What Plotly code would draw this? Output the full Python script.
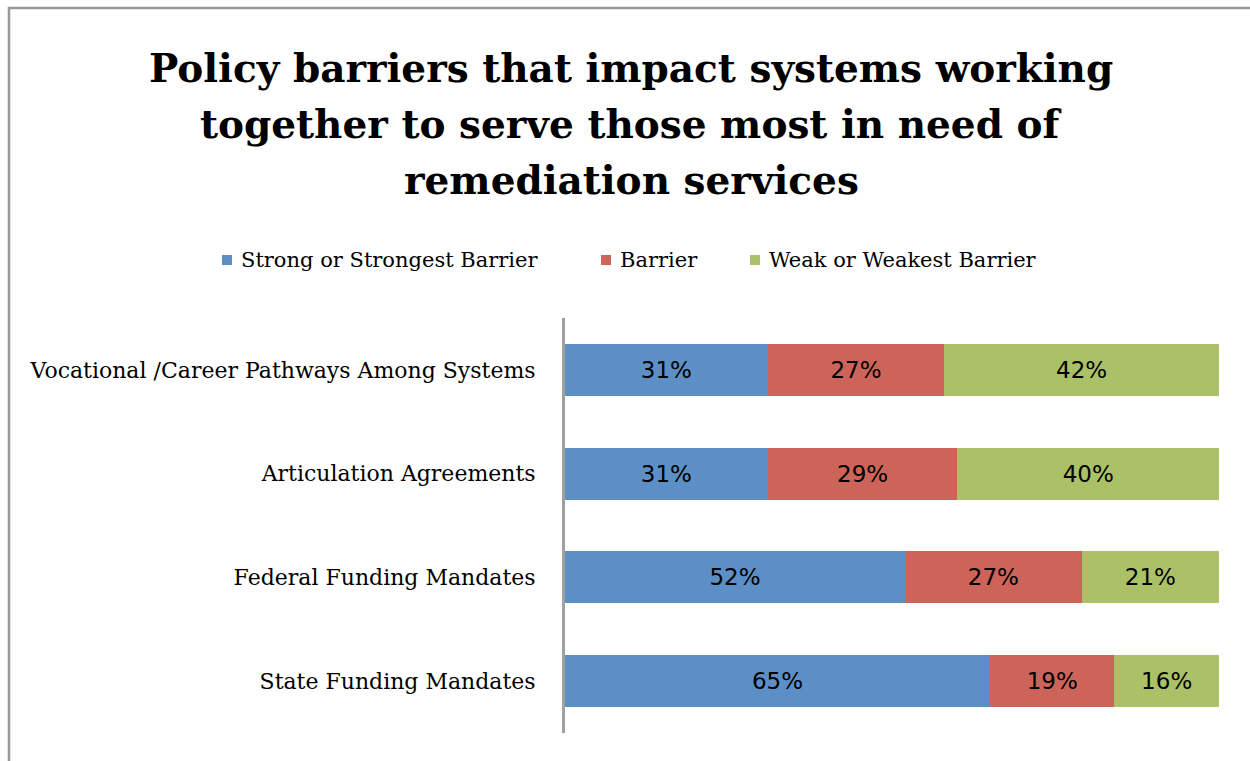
import plotly.graph_objects as go

categories = [
    "Vocational /Career Pathways Among Systems",
    "Articulation Agreements",
    "Federal Funding Mandates",
    "State Funding Mandates",
]
series_names = ["Strong or Strongest Barrier", "Barrier", "Weak or Weakest Barrier"]
strong = [31, 31, 52, 65]
barrier = [27, 29, 27, 19]
weak = [42, 40, 21, 16]
colors = ["#5B8FC5", "#CC645A", "#AAC168"]
title_lines = [
    "Policy barriers that impact systems working",
    "together to serve those most in need of",
    "remediation services",
]

W, H = 1250, 761
L, R, T, B = 565, 31, 318, 28
PW, PH = W - L - R, H - T - B


def px_x(x):
    return (x - L) / PW


def px_y(y):
    return (H - B - y) / PH


fig = go.Figure()
for name, vals, col in zip(series_names, [strong, barrier, weak], colors):
    fig.add_trace(go.Bar(
        y=categories, x=vals, name=name, orientation="h",
        marker=dict(color=col, line=dict(width=0)),
        text=[f"{v}%" for v in vals], textposition="inside",
        insidetextanchor="middle",
        textfont=dict(family="DejaVu Sans", size=23, color="#000000"),
    ))

serif = "DejaVu Serif"
fig.update_layout(
    width=W, height=H,
    barmode="stack", bargap=0.5,
    margin=dict(l=L, r=R, t=T, b=B, autoexpand=False),
    paper_bgcolor="white", plot_bgcolor="white",
    showlegend=False,
    xaxis=dict(range=[0, 100], visible=False, fixedrange=True),
    yaxis=dict(
        categoryorder="array", categoryarray=categories[::-1],
        autorange=False, range=[-0.5, 3.5],
        showline=True, linecolor="#A0A0A0", linewidth=3,
        ticks="", showgrid=False,
        tickfont=dict(family=serif, size=22, color="#000000"),
        ticklabelstandoff=22,
    ),
)

# chart title, one annotation per line
for line, yc in zip(title_lines, [68, 124, 180]):
    fig.add_annotation(
        text=line, xref="paper", yref="paper", x=px_x(631), y=px_y(yc),
        xanchor="center", yanchor="middle", showarrow=False,
        font=dict(family=serif, size=39, color="#000000", weight="bold"),
    )

# legend row: colour swatch plus series name
legend_x = [222, 601, 750]
legend_y = 260
for name, col, lx in zip(series_names, colors, legend_x):
    fig.add_shape(type="rect", xref="paper", yref="paper",
                  x0=px_x(lx), x1=px_x(lx + 10), y0=px_y(legend_y + 5), y1=px_y(legend_y - 5),
                  line=dict(width=0), fillcolor=col)
    fig.add_annotation(
        text=name, xref="paper", yref="paper", x=px_x(lx + 17), y=px_y(legend_y),
        xanchor="left", yanchor="middle", showarrow=False,
        font=dict(family=serif, size=21, color="#000000"),
    )

# chart-area frame
fig.add_shape(type="rect", xref="paper", yref="paper",
              x0=px_x(9), x1=px_x(W + 10), y0=px_y(H + 10), y1=px_y(8),
              line=dict(color="#999999", width=2.5), fillcolor="rgba(0,0,0,0)", layer="above")

fig.write_html("out.html")
